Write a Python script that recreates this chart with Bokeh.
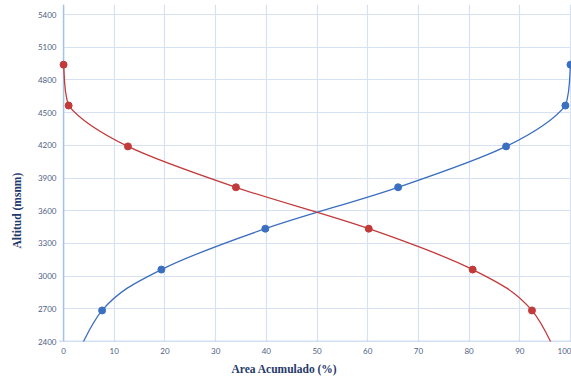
import numpy as np
from bokeh.plotting import figure
from bokeh.models import Range1d, FixedTicker, Title, BoxAnnotation, Span
from bokeh.embed import file_html
from bokeh.resources import INLINE

# Data (the lowest point lies below the visible axis range)
altitud = [2000, 2685, 3060, 3435, 3815, 4190, 4565, 4940]
area_blue = [0.0, 7.6, 19.3, 39.8, 66.0, 87.3, 99.0, 100.0]
area_red = [100.0, 92.4, 80.7, 60.2, 34.0, 12.7, 1.0, 0.0]
x_ticks = [0, 10, 20, 30, 40, 50, 60, 70, 80, 90, 100]
y_ticks = [2400, 2700, 3000, 3300, 3600, 3900, 4200, 4500, 4800, 5100, 5400]

BLUE = "#3B6FC0"
RED = "#C33A3A"

p = figure(width=571, height=381, output_backend="svg", toolbar_location=None,
           x_range=Range1d(-1.0, 100.2), y_range=Range1d(2400, 5492),
           min_border_left=57, min_border_right=0, min_border_top=4, min_border_bottom=40)
p.outline_line_color = None
p.background_fill_color = "white"

for ax in (p.xaxis[0], p.yaxis[0]):
    ax.major_tick_out = 0
    ax.major_tick_in = 0
    ax.minor_tick_out = 0
    ax.minor_tick_in = 0
    ax.axis_line_color = None
    ax.major_label_text_font = "Lato"
    ax.major_label_text_font_size = "8px"
    ax.major_label_text_color = "#4F6185"
p.xaxis.ticker = FixedTicker(ticks=x_ticks)
p.yaxis.ticker = FixedTicker(ticks=y_ticks)
p.xaxis.major_label_standoff = 6
p.yaxis.major_label_standoff = 2

p.xgrid.ticker = FixedTicker(ticks=x_ticks)
p.ygrid.ticker = FixedTicker(ticks=y_ticks)
p.xgrid.grid_line_color = "#D6E2F3"
p.ygrid.grid_line_color = "#D6E2F3"
p.xgrid.grid_line_width = 1.2
p.ygrid.grid_line_width = 1.2

# cover grid stubs left of x=0
p.add_layout(BoxAnnotation(right=0, fill_color="white", fill_alpha=1.0, line_alpha=0, level="underlay"))
# axis lines
p.add_layout(Span(location=0, dimension="height", line_color="#A4C1EA", line_width=1.5, level="underlay"))
p.add_layout(Span(location=2400, dimension="width", line_color="#A4C1EA", line_width=1.5, level="underlay"))


def smooth(xs, ys):
    xs = np.asarray(xs, float)
    ys = np.asarray(ys, float)
    n = len(xs)
    px = np.concatenate([[xs[0]], xs, [xs[-1]]])
    py = np.concatenate([[ys[0]], ys, [ys[-1]]])
    x0, y0, x1, y1, cx0, cy0, cx1, cy1 = [], [], [], [], [], [], [], []
    for i in range(n - 1):
        a, b, c, d = i, i + 1, i + 2, i + 3
        c0x = px[b] + (px[c] - px[a]) / 6
        c0y = py[b] + (py[c] - py[a]) / 6
        c1x = px[c] - (px[d] - px[b]) / 6
        c1y = py[c] - (py[d] - py[b]) / 6
        x0.append(px[b]); y0.append(py[b]); x1.append(px[c]); y1.append(py[c])
        cx0.append(min(max(c0x, 0), 100)); cy0.append(c0y)
        cx1.append(min(max(c1x, 0), 100)); cy1.append(c1y)
    return dict(x0=x0, y0=y0, x1=x1, y1=y1, cx0=cx0, cy0=cy0, cx1=cx1, cy1=cy1)


for xs, col in ((area_blue, BLUE), (area_red, RED)):
    s = smooth(xs, altitud)
    p.bezier(x0=s["x0"], y0=s["y0"], x1=s["x1"], y1=s["y1"],
             cx0=s["cx0"], cy0=s["cy0"], cx1=s["cx1"], cy1=s["cy1"],
             line_color=col, line_width=1.3)
    p.scatter(xs, altitud, size=7, marker="circle", fill_color=col, line_color=col)

p.add_layout(Title(text="Altitud (msnm)", align="left", offset=93, vertical_align="top",
                   standoff=20, text_font="Liberation Serif", text_font_style="bold",
                   text_font_size="11.5px", text_color="#1F3A6A"), "left")
p.add_layout(Title(text="Area Acumulado (%)", align="left", offset=173, vertical_align="bottom",
                   standoff=9, text_font="Liberation Serif", text_font_style="bold",
                   text_font_size="11.5px", text_color="#1F3A6A"), "below")

open("out.html", "w").write(file_html(p, INLINE))
